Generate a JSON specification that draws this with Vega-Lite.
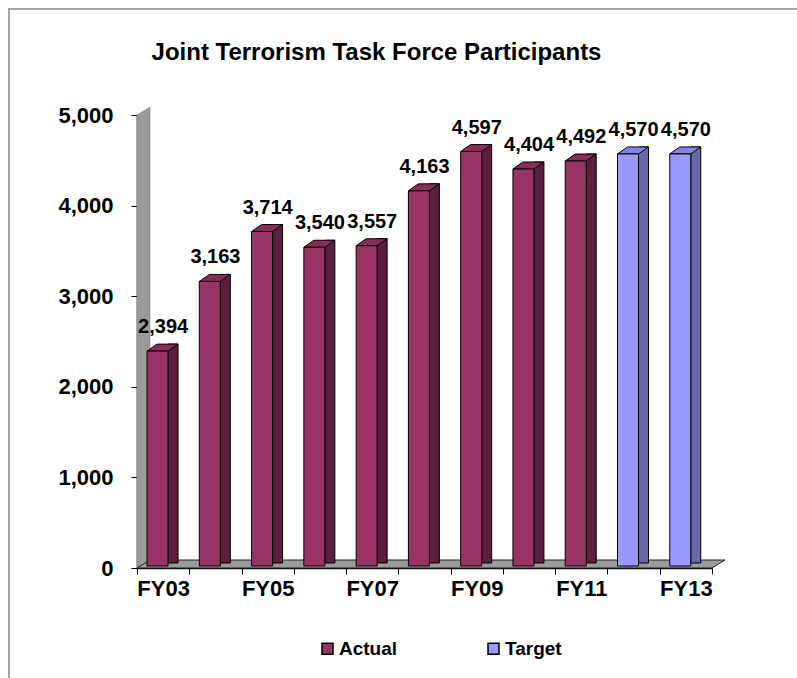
{
  "$schema": "https://vega.github.io/schema/vega-lite/v6.json",
  "width": 575,
  "height": 453,
  "autosize": {"type": "none"},
  "padding": {"left": 137, "top": 115, "right": 85, "bottom": 110},
  "background": "white",
  "config": {
    "view": {"stroke": null},
    "font": "Liberation Sans",
    "axis": {
      "title": null,
      "grid": false,
      "labelFontSize": 22,
      "labelFontWeight": "bold",
      "labelColor": "black",
      "tickColor": "black",
      "tickSize": 6,
      "domainColor": "black",
      "domainWidth": 1.5,
      "zindex": 1
    },
    "axisX": {"labelAngle": 0, "labelPadding": 4, "tickBand": "extent", "labelOverlap": false},
    "axisY": {"labelPadding": 18}
  },
  "title": {
    "text": "Joint Terrorism Task Force Participants",
    "fontSize": 24,
    "fontWeight": "bold",
    "color": "black",
    "anchor": "middle",
    "frame": "group",
    "dx": -48,
    "offset": -57
  },
  "data": {
    "values": [
      {"year": "FY03", "value": 2394, "type": "Actual"},
      {"year": "FY04", "value": 3163, "type": "Actual"},
      {"year": "FY05", "value": 3714, "type": "Actual"},
      {"year": "FY06", "value": 3540, "type": "Actual"},
      {"year": "FY07", "value": 3557, "type": "Actual"},
      {"year": "FY08", "value": 4163, "type": "Actual"},
      {"year": "FY09", "value": 4597, "type": "Actual"},
      {"year": "FY10", "value": 4404, "type": "Actual"},
      {"year": "FY11", "value": 4492, "type": "Actual"},
      {"year": "FY12", "value": 4570, "type": "Target"},
      {"year": "FY13", "value": 4570, "type": "Target"}
    ]
  },
  "layer": [
    {
      "data": {"values": [{}]},
      "mark": {"type": "rect", "filled": false, "stroke": "#a3a3a3", "strokeWidth": 2},
      "encoding": {
        "x": {"value": -128},
        "x2": {"value": {"expr": "width+150"}},
        "y": {"value": -106},
        "y2": {"value": {"expr": "height+150"}}
      }
    },
    {
      "data": {"values": [{}]},
      "mark": {
        "type": "point",
        "shape": "M -0.0282 1 L -0.0282 -0.965 L 0.0282 -1 L 0.0282 0.965 Z",
        "filled": true,
        "fill": "#9a9a9a",
        "stroke": "#777777",
        "strokeWidth": 0.5,
        "opacity": 1,
        "size": 212521,
        "yOffset": -4
      },
      "encoding": {
        "x": {"value": 6.5},
        "y": {
          "datum": 2500,
          "type": "quantitative",
          "scale": {"domain": [0, 5000], "nice": false},
          "axis": {"values": [0, 1000, 2000, 3000, 4000, 5000], "format": ",", "labelExpr": "format(datum.value, ',')"}
        }
      }
    },
    {
      "data": {"values": [{}]},
      "mark": {
        "type": "point",
        "shape": "M -1 0.0136 L 0.9558 0.0136 L 1 -0.0136 L -0.9558 -0.0136 Z",
        "filled": true,
        "fill": "#9a9a9a",
        "stroke": "#222222",
        "strokeWidth": 1,
        "opacity": 1,
        "size": 345744,
        "yOffset": -4
      },
      "encoding": {
        "x": {"value": 294},
        "y": {
          "datum": 0,
          "type": "quantitative",
          "axis": {"values": [0, 1000, 2000, 3000, 4000, 5000], "format": ",", "labelExpr": "format(datum.value, ',')"}
        }
      }
    },
    {
      "mark": {"type": "bar", "width": 10, "xOffset": 9.9, "yOffset": -7, "y2Offset": -5, "stroke": "black", "strokeWidth": 1},
      "encoding": {
        "x": {
          "field": "year",
          "type": "nominal",
          "sort": null,
          "scale": {"paddingInner": 0, "paddingOuter": 0},
          "axis": {"labelExpr": "indexof(['FY03','FY05','FY07','FY09','FY11','FY13'], datum.value) >= 0 ? datum.value : ''"}
        },
        "y": {
          "field": "value",
          "type": "quantitative",
          "axis": {"values": [0, 1000, 2000, 3000, 4000, 5000], "format": ",", "labelExpr": "format(datum.value, ',')"}
        },
        "y2": {"datum": 0},
        "fill": {"condition": {"test": "datum.type === 'Actual'", "value": "#5c1f3f"}, "value": "#6868a8"}
      }
    },
    {
      "mark": {
        "type": "point",
        "shape": "M -1 0.2258 L 0.3548 0.2258 L 1 -0.2258 L -0.3548 -0.2258 Z",
        "filled": true,
        "opacity": 1,
        "size": 961,
        "xOffset": -0.6,
        "yOffset": -3.5,
        "stroke": "black",
        "strokeWidth": 1
      },
      "encoding": {
        "x": {
          "field": "year",
          "type": "nominal",
          "sort": null,
          "axis": {"labelExpr": "indexof(['FY03','FY05','FY07','FY09','FY11','FY13'], datum.value) >= 0 ? datum.value : ''"}
        },
        "y": {
          "field": "value",
          "type": "quantitative",
          "axis": {"values": [0, 1000, 2000, 3000, 4000, 5000], "format": ",", "labelExpr": "format(datum.value, ',')"}
        },
        "fill": {"condition": {"test": "datum.type === 'Actual'", "value": "#8a2c5a"}, "value": "#8585e0"}
      }
    },
    {
      "mark": {"type": "bar", "width": 21, "xOffset": -5.6, "y2Offset": -2, "stroke": "black", "strokeWidth": 1},
      "encoding": {
        "x": {
          "field": "year",
          "type": "nominal",
          "sort": null,
          "axis": {"labelExpr": "indexof(['FY03','FY05','FY07','FY09','FY11','FY13'], datum.value) >= 0 ? datum.value : ''"}
        },
        "y": {
          "field": "value",
          "type": "quantitative",
          "axis": {"values": [0, 1000, 2000, 3000, 4000, 5000], "format": ",", "labelExpr": "format(datum.value, ',')"}
        },
        "y2": {"datum": 0},
        "color": {
          "field": "type",
          "type": "nominal",
          "scale": {"domain": ["Actual", "Target"], "range": ["#993366", "#9999ff"]},
          "legend": {
            "title": null,
            "orient": "none",
            "legendX": 181,
            "legendY": 524,
            "direction": "horizontal",
            "symbolType": "square",
            "symbolSize": 121,
            "symbolStrokeColor": "black",
            "symbolStrokeWidth": 1.5,
            "symbolOpacity": 1,
            "labelFontSize": 19,
            "labelFontWeight": "bold",
            "labelColor": "black",
            "labelOffset": 2,
            "columnPadding": 86
          }
        }
      }
    },
    {
      "mark": {"type": "text", "dy": -24, "fontSize": 20, "fontWeight": "bold", "color": "black", "baseline": "middle"},
      "encoding": {
        "x": {
          "field": "year",
          "type": "nominal",
          "sort": null,
          "axis": {"labelExpr": "indexof(['FY03','FY05','FY07','FY09','FY11','FY13'], datum.value) >= 0 ? datum.value : ''"}
        },
        "y": {
          "field": "value",
          "type": "quantitative",
          "axis": {"values": [0, 1000, 2000, 3000, 4000, 5000], "format": ",", "labelExpr": "format(datum.value, ',')"}
        },
        "text": {"field": "value", "type": "quantitative", "format": ","}
      }
    }
  ]
}
